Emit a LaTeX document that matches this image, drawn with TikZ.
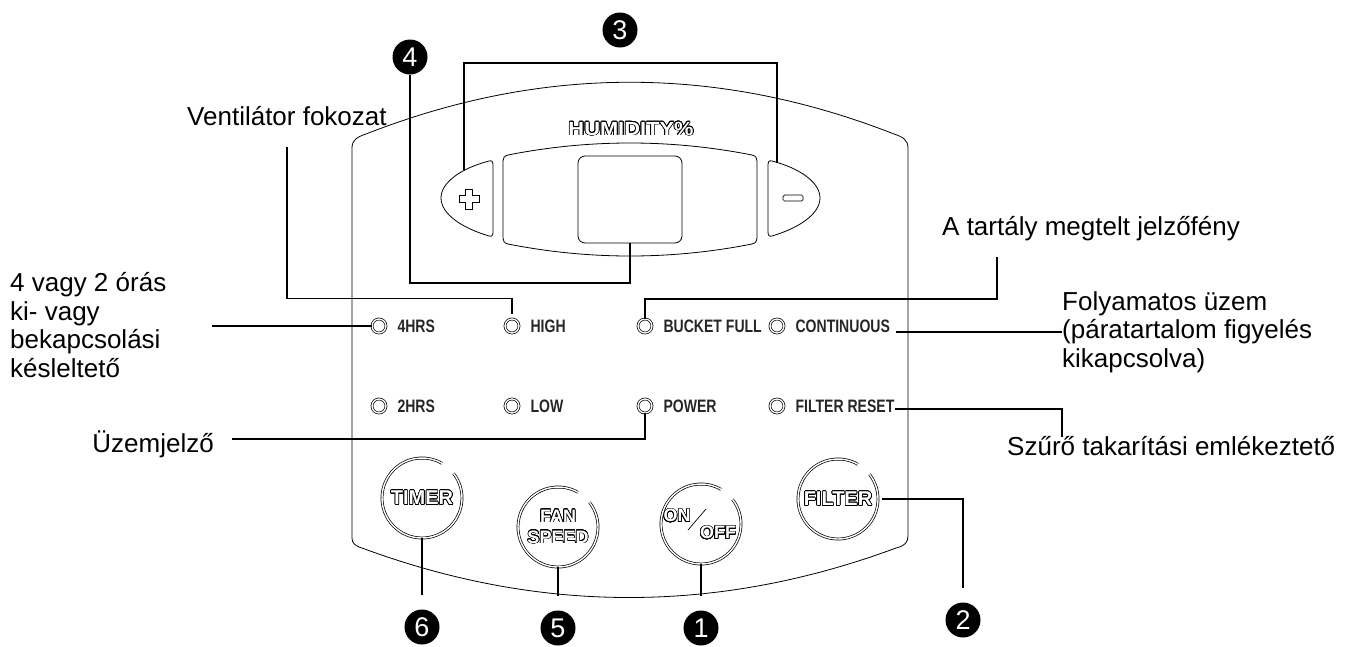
\documentclass[tikz,border=0pt]{standalone}
\usepackage{fontspec}
\setmainfont{Liberation Sans}
\newfontfamily\ledfamily{Liberation Sans}[FakeStretch=0.78]
\usepackage[copies]{contour}
\usepackage{tikz}
\usetikzlibrary{positioning}
\contourlength{0.65pt}
\contournumber{24}
\newcommand\notefont{\fontsize{26}{28.4}\selectfont}
\newcommand\numfont{\fontsize{27}{27}\selectfont}
\newcommand\btnfont{\bfseries\fontsize{20}{21}\selectfont}
\newcommand\fanfont{\bfseries\fontsize{18}{21}\selectfont}
\newcommand\ledfont{\ledfamily\bfseries\fontsize{18}{19}\selectfont}
\newcommand\hollow[1]{\contour{black}{#1}}
\tikzset{
  lead/.style={line width=1.6pt, black},
  tonum/.style={lead, shorten >=14pt},
  outline/.style={line width=0.8pt, black},
  led/.style={circle, draw, double, double distance=1.3pt, line width=0.7pt,
              minimum size=14pt, inner sep=0pt},
  ledtxt/.style={font=\ledfont, text=black!85, inner sep=0pt},
  btn/.style={circle, minimum size=80pt, inner sep=0pt, text=white, font=\btnfont},
  ring/.style={draw, double, double distance=1.4pt, line width=0.7pt},
  num/.style={circle, fill=black, text=white, minimum size=35pt, inner sep=0pt, font=\numfont},
  note/.style={font=\notefont, inner sep=0pt, align=left},
}
\begin{document}
\begin{tikzpicture}[x=1pt,y=-1pt]
    \useasboundingbox (0,0) rectangle (1352,646);
    % panel
    \draw[outline] (352,148) .. controls (352,140) and (357,137) .. (366,134)
      .. controls (542,65) and (718,65) .. (894,134)
      .. controls (903,137) and (908,140) .. (908,148) -- (908,536)
      .. controls (908,542) and (905,546) .. (896,548)
      .. controls (718,614) and (540,614) .. (362,548)
      .. controls (355,546) and (352,543) .. (352,538) -- cycle;
    \node[text=white, font=\bfseries\fontsize{19}{19}\selectfont, inner sep=0pt] (hum) at (631,129) {\scalebox{1.15}[1]{\hollow{HUMIDITY\%}}};
    % display
    \draw[outline] (508,155) .. controls (589,139) and (671,139) .. (752,155)
      .. controls (756,156) and (757,158) .. (757,161) -- (757,238)
      .. controls (757,241) and (756,243) .. (752,244)
      .. controls (671,260) and (589,260) .. (508,244)
      .. controls (504,243) and (503,241) .. (503,238) -- (503,161)
      .. controls (503,158) and (504,156) .. (508,155) -- cycle;
    \node[draw, outline, rounded corners=7pt, minimum width=104pt, minimum height=87pt] (screen) at (630,199.5) {};
    % plus / minus keys
    \draw[outline] (489,161) .. controls (462,168) and (441,182) .. (441,198)
      .. controls (441,214) and (462,228) .. (489,236)
      .. controls (492,237) and (493,235) .. (493,232) -- (493,165)
      .. controls (493,162) and (492,160) .. (489,161) -- cycle;
    \draw[line width=0.7pt] (465.5,189) -- (472.5,189) -- (472.5,195.5) -- (479,195.5) -- (479,202.5) -- (472.5,202.5)
      -- (472.5,209) -- (465.5,209) -- (465.5,202.5) -- (459,202.5) -- (459,195.5) -- (465.5,195.5) -- cycle;
    \draw[outline] (772,161) .. controls (799,168) and (820,182) .. (820,198)
      .. controls (820,214) and (799,228) .. (772,236)
      .. controls (769,237) and (768,235) .. (768,232) -- (768,165)
      .. controls (768,162) and (769,160) .. (772,161) -- cycle;
    \draw[line width=0.7pt, rounded corners=1.5pt] (783,195) rectangle (803,201);
    \coordinate (pk) at (464,170);
    \coordinate (mk) at (777,163);
    % lamps
    \foreach \n/\x/\y/\t in {l4/379/326/4HRS, lhi/512/326/HIGH, lbf/645/326/{BUCKET~FULL}, lco/777/326/CONTINUOUS,
                              l2/379/406/2HRS, llo/512/406/LOW, lpw/645/406/POWER, lfr/777/406/{FILTER RESET}} {
      \node[led] (\n) at (\x,\y) {};
      \node[ledtxt, right=11pt of \n] (t\n) {\t};
    }
    % keys
    \node[btn] (timer) at (422,498) {\hollow{TIMER}};
    \node[btn, font=\fanfont, align=center] (fan) at (558,527) {\hollow{FAN}\\\hollow{SPEED}};
    \node[btn] (onoff) at (701,524) {};
    \node[btn] (filter) at (838,499) {\hollow{FILTER}};
    \node[text=white, font=\fanfont, inner sep=0pt] (on) at ([shift={(-24,-8)}]onoff.center) {\hollow{ON}};
    \node[text=white, font=\fanfont, inner sep=0pt] (off) at ([shift={(17,9)}]onoff.center) {\hollow{OFF}};
    \draw[line width=0.7pt] ([shift={(-13,6)}]onoff.center) -- ([shift={(5,-15)}]onoff.center);
    \foreach \b in {timer,fan,onoff,filter}
      \draw[ring] (\b.center) ++(-38:40) arc[start angle=-38, end angle=300, radius=40];
    % texts
    \node[note, anchor=base west] (vent) at (187,125) {Ventilátor fokozat};
    \node[note, anchor=west] (delay) at (10,325) {4 vagy 2 órás\\ki- vagy\\bekapcsolási\\késleltető};
    \node[note, anchor=base east] (uzem) at (214,452) {Üzemjelző};
    \node[note, anchor=base west] (tank) at (942,235) {A tartály megtelt jelzőfény};
    \node[note, anchor=west] (folya) at (1062,332) {Folyamatos üzem\\(páratartalom figyelés\\kikapcsolva)};
    \node[note, anchor=base west] (szuro) at (1007,455) {Szűrő takarítási emlékeztető};
    \coordinate (tankp) at ([xshift=55pt,yshift=-22pt]tank.base west);
    \coordinate (szp) at ([xshift=55pt,yshift=18pt]szuro.base west);
    \coordinate (uzp) at ([xshift=18pt,yshift=13pt]uzem.base east);
    % numbers
    \node[num] (n1) at (701,628) {1};
    \node[num] (n2) at (963,620) {2};
    \node[num] (n3) at (620,30) {3};
    \node[num] (n4) at (410,57) {4};
    \node[num] (n5) at (558,628) {5};
    \node[num] (n6) at (422,627) {6};
    % leaders
    \draw[lead] (pk) -- (pk |- 0,63) -- (mk |- 0,63) -- (mk);
    \draw[lead] (n4.south) |- (screen.south |- 0,283) -- (screen.south);
    \draw[lead] ([yshift=-22pt]vent.south) |- ([yshift=20pt]lhi.north) -- ([yshift=5pt]lhi.north);
    \draw[lead] ([xshift=46pt]delay.east |- l4.west) -- (l4.west);
    \draw[lead] (lbf.north) |- (tankp |- 0,299) -- (tankp);
    \draw[lead] ([xshift=6pt]tlco.base east) -- (tlco.base east -| folya.west);
    \draw[lead] ([yshift=-3pt]tlfr.east) -| (szp);
    \draw[lead] (uzp) -| (lpw.south);
    \draw[tonum] (timer.south) -- (n6.north);
    \draw[tonum] (fan.south) -- (n5.north);
    \draw[tonum] (onoff.south) -- (n1.north);
    \draw[tonum] ([xshift=4pt]filter.east) -| (n2.north);
  \end{tikzpicture}
\end{document}
